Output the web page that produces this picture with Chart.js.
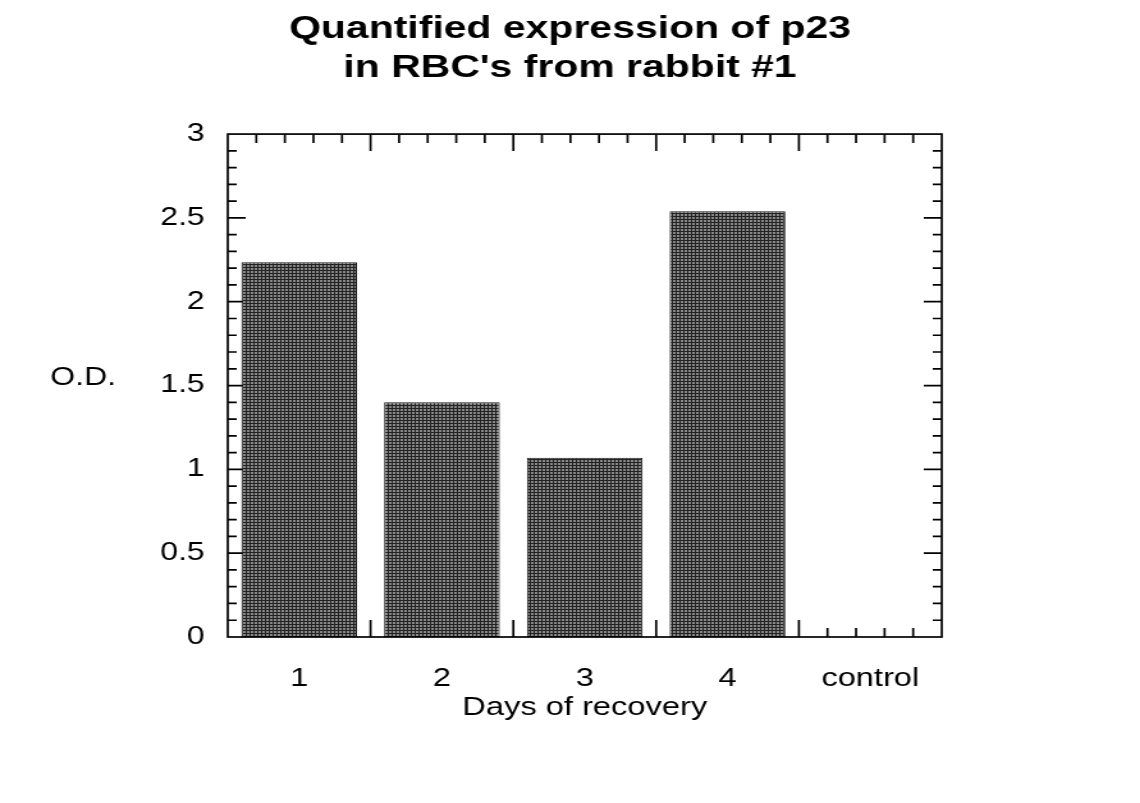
<!DOCTYPE html>
<html>
<head>
<meta charset="utf-8">
<script src="https://cdn.jsdelivr.net/npm/chart.js@4.4.1/dist/chart.umd.min.js"></script>
<style>
    html, body { margin: 0; padding: 0; background: #fff; overflow: hidden; }
    #wrap {
        width: 891px;
        height: 803px;
        transform: scaleX(1.2795);
        transform-origin: 0 0;
    }
</style>
</head>
<body>
<div id="wrap"><canvas id="odChart" width="891" height="803"></canvas></div>
<script>
// Data
const categories = ['1', '2', '3', '4', 'control'];
const odValues = [2.235, 1.40, 1.07, 2.54, 0];
const yTicks = [0, 0.5, 1, 1.5, 2, 2.5, 3];

const FONT = "'Liberation Sans', Arial, Helvetica, sans-serif";

// Halftone-ish fill for the bars
function makeStipple() {
    const c = document.createElement('canvas');
    c.width = 3;
    c.height = 3;
    const g = c.getContext('2d');
    g.fillStyle = '#222';
    g.fillRect(0, 0, 3, 3);
    g.fillStyle = '#888';
    g.fillRect(1, 1, 2, 2);
    return g.createPattern(c, 'repeat');
}

// Box frame with inward major/minor ticks on all four sides
const frameTicks = {
    id: 'frameTicks',
    beforeDatasetsDraw(chart) {
        const { ctx, chartArea: a, scales: { x, y } } = chart;
        ctx.save();
        ctx.strokeStyle = '#000';
        ctx.lineWidth = 1.7;
        ctx.beginPath();
        // left / right: minor every 0.1, major every 0.5
        for (let i = 1; i < 30; i++) {
            const py = y.getPixelForValue(i / 10);
            const len = i % 5 === 0 ? 14 : 7;
            ctx.moveTo(a.left, py);
            ctx.lineTo(a.left + len, py);
            ctx.moveTo(a.right, py);
            ctx.lineTo(a.right - len, py);
        }
        // top / bottom: major at category edges, 4 minor between
        const n = categories.length * 5;
        for (let k = 1; k < n; k++) {
            const px = x.getPixelForValue(-0.5 + k / 5);
            const len = k % 5 === 0 ? 17 : 9;
            ctx.moveTo(px, a.top);
            ctx.lineTo(px, a.top + len);
            ctx.moveTo(px, a.bottom);
            ctx.lineTo(px, a.bottom - len);
        }
        ctx.stroke();
        ctx.restore();
    },
    afterDatasetsDraw(chart) {
        const { ctx, chartArea: a } = chart;
        ctx.save();
        ctx.strokeStyle = '#000';
        ctx.lineWidth = 1.7;
        ctx.strokeRect(a.left, a.top, a.right - a.left, a.bottom - a.top);
        ctx.restore();
    },
    afterDraw(chart) {
        // horizontal y-axis caption
        const { ctx, chartArea: a } = chart;
        ctx.save();
        ctx.fillStyle = '#000';
        ctx.font = '25px ' + FONT;
        ctx.textAlign = 'center';
        ctx.textBaseline = 'middle';
        ctx.fillText('O.D.', 65, (a.top + a.bottom) / 2 - 7);
        ctx.restore();
    }
};

const ctx = document.getElementById('odChart').getContext('2d');
new Chart(ctx, {
    type: 'bar',
    data: {
        labels: categories,
        datasets: [{
            data: odValues,
            backgroundColor: makeStipple(),
            borderColor: '#1a1a1a',
            borderWidth: 1,
            borderSkipped: false,
            barPercentage: 0.81,
            categoryPercentage: 1
        }]
    },
    options: {
        responsive: false,
        animation: false,
        layout: {
            padding: { top: 0, left: 0, right: 0, bottom: 80 }
        },
        plugins: {
            legend: { display: false },
            tooltip: { enabled: false },
            title: {
                display: true,
                text: ['Quantified expression of p23', "in RBC's from rabbit #1"],
                color: '#000',
                font: { family: FONT, size: 32, weight: 'bold', lineHeight: 1.22 },
                padding: { top: 10, bottom: 46 }
            }
        },
        scales: {
            x: {
                grid: { display: false, drawTicks: false },
                border: { display: false },
                afterFit(scale) { scale.height = 86; },
                ticks: {
                    color: '#000',
                    padding: 27,
                    maxRotation: 0,
                    font: { family: FONT, size: 25.5 }
                },
                title: {
                    display: true,
                    text: 'Days of recovery',
                    color: '#000',
                    padding: { top: 0, bottom: 0 },
                    font: { family: FONT, size: 25.5 }
                }
            },
            y: {
                min: 0,
                max: 3,
                grid: { display: false, drawTicks: false },
                border: { display: false },
                afterFit(scale) { scale.width = 178; },
                afterBuildTicks(scale) {
                    scale.ticks = yTicks.map(v => ({ value: v }));
                },
                ticks: {
                    color: '#000',
                    padding: 18,
                    font: { family: FONT, size: 25 },
                    callback: v => String(v)
                }
            },
            // empty right-hand gutter so the title stays centred on the page
            yRight: {
                position: 'right',
                min: 0,
                max: 3,
                grid: { display: false, drawTicks: false },
                border: { display: false },
                ticks: { display: false },
                afterFit(scale) { scale.width = 155; }
            }
        }
    },
    plugins: [frameTicks]
});
</script>
</body>
</html>
